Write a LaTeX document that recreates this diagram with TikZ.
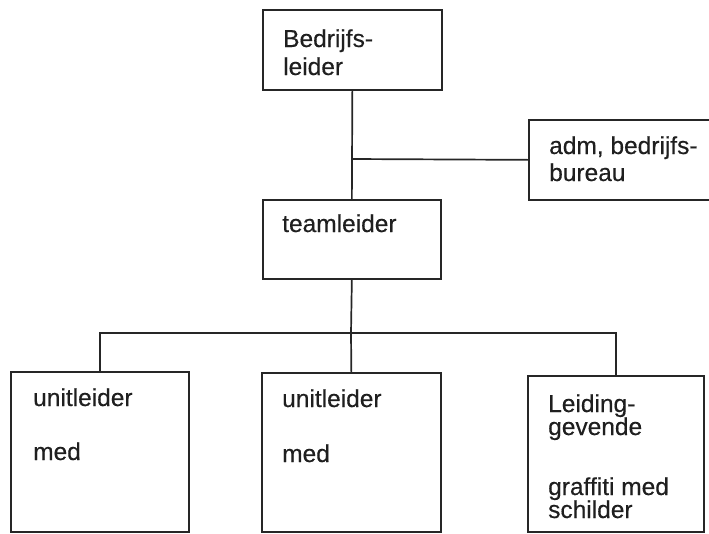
\documentclass[tikz,border=0pt]{standalone}
\usepackage{fontspec}
\setmainfont{Liberation Sans}[FakeBold=0.35]
\begin{document}
\begin{tikzpicture}[x=1pt,y=-1pt,
  box/.style={draw=black!85, line width=1.7pt, rectangle, inner sep=0pt, anchor=north west},
  lbl/.style={anchor=base west, inner sep=0pt, text=black!88, font=\fontsize{24.5}{28}\selectfont},
  conn/.style={draw=black!85, line width=1.7pt}]
\useasboundingbox (0,0) rectangle (709,533);
% boxes
\node[box, minimum width=179pt, minimum height=80pt] (B) at (262,9) {};
\node[box, minimum width=190pt, minimum height=80pt] (A) at (528,119) {};
\node[box, minimum width=178pt, minimum height=79pt] (T) at (262,199) {};
\node[box, minimum width=178pt, minimum height=160pt] (U1) at (10,371) {};
\node[box, minimum width=179pt, minimum height=159pt] (U2) at (261,372) {};
\node[box, minimum width=176pt, minimum height=156pt] (L) at (527,375) {};
% texts
\node[lbl] (tB1) at (283,47) {Bedrijfs-};
\node[lbl] (tB2) at (283,75) {leider};
\node[lbl] (tA1) at (549,154) {adm, bedrijfs-};
\node[lbl] (tA2) at (549,181) {bureau};
\node[lbl] (tT) at (282,232) {teamleider};
\node[lbl] (tU11) at (33,406) {unitleider};
\node[lbl] (tU12) at (33,460) {med};
\node[lbl] (tU21) at (282,407) {unitleider};
\node[lbl] (tU22) at (282,462) {med};
\node[lbl] (tL1) at (548,412) {Leiding-};
\node[lbl] (tL2) at (548,435) {gevende};
\node[lbl] (tL3) at (548,495) {graffiti med};
\node[lbl] (tL4) at (548,518) {schilder};
% connectors
\coordinate (j1) at (351,159);
\coordinate (j2) at (351,333);
\draw[conn] (B.south) -- (T.north);
\draw[conn] (j1) -- (A.west);
\draw[conn] (T.south) -- (j2);
\draw[conn] (U1.north) |- (j2) -| (L.north);
\draw[conn] (j2) -- (U2.north);
\end{tikzpicture}
\end{document}
